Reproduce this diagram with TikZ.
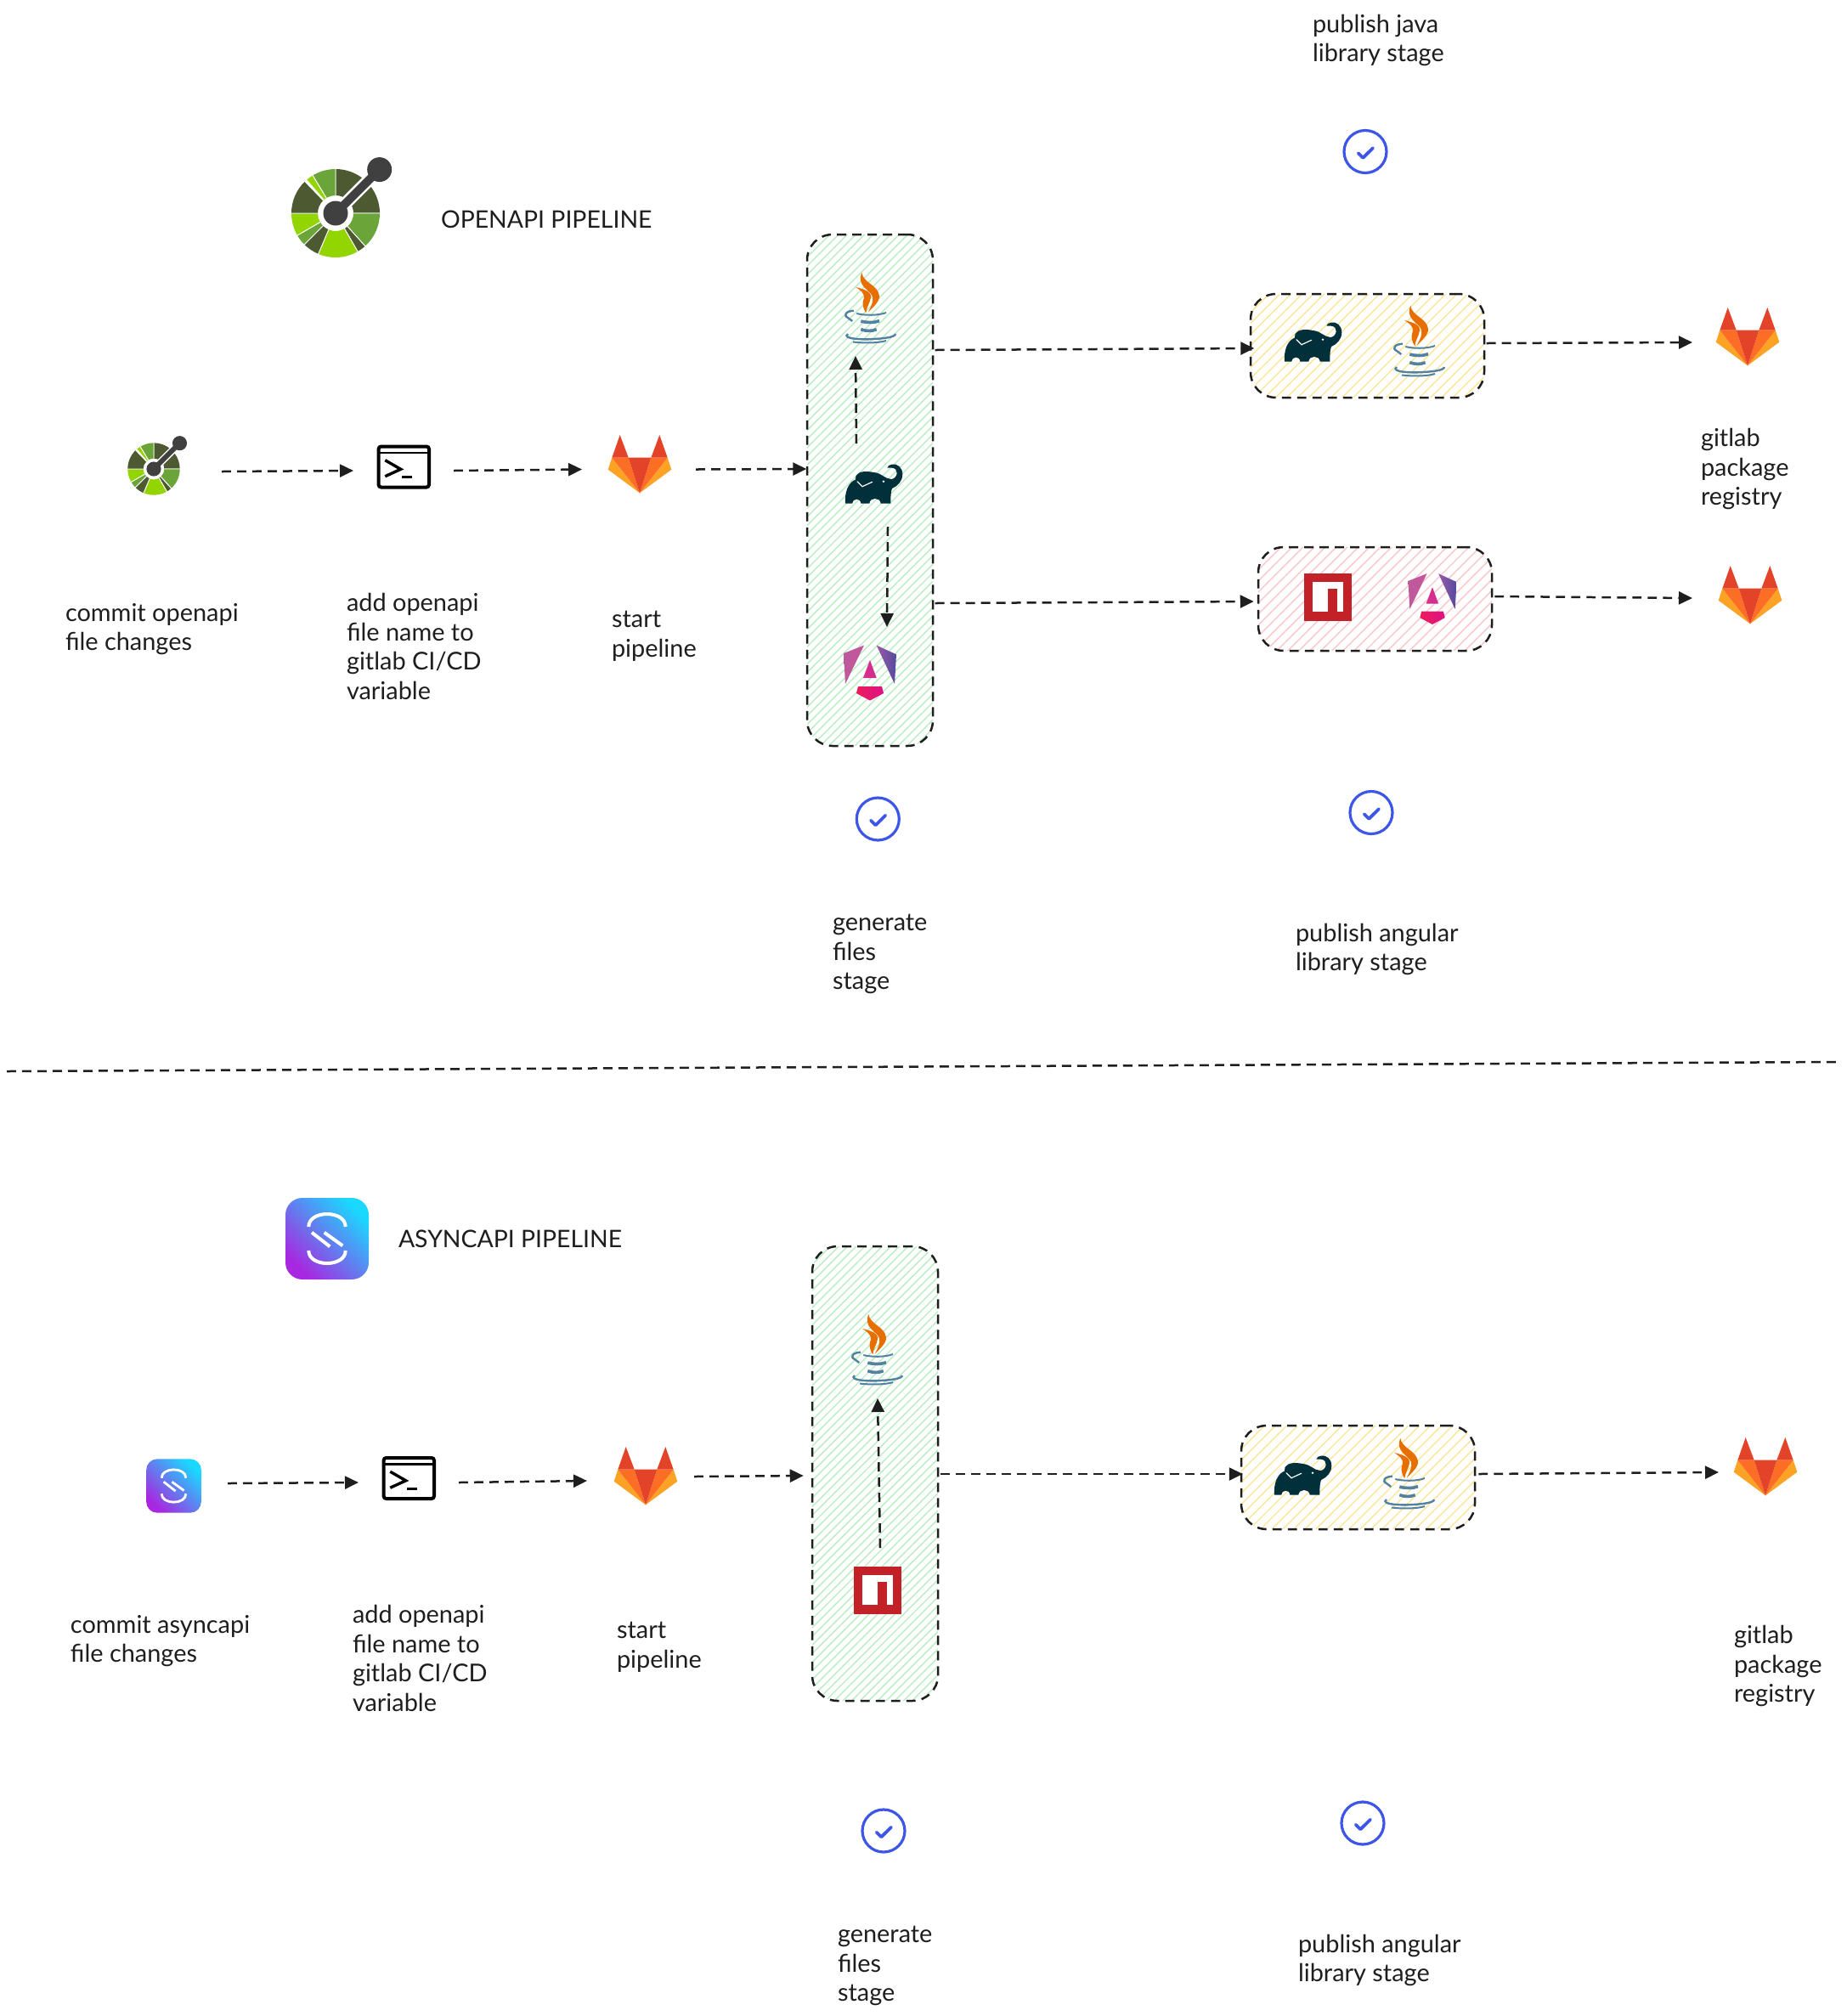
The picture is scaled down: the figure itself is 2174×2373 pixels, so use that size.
\documentclass[tikz,border=0pt]{standalone}
\usepackage{fontspec}
\setmainfont{Lato}
\usetikzlibrary{arrows.meta,calc,patterns.meta,shapes.geometric}
\definecolor{ink}{HTML}{1E1E1E}
\definecolor{hatchgreen}{HTML}{B9EEC1}
\definecolor{hatchyellow}{HTML}{FBE69A}
\definecolor{hatchpink}{HTML}{FBC6CB}
\definecolor{glred}{HTML}{E24329}
\definecolor{glorange}{HTML}{FC6D26}
\definecolor{glyellow}{HTML}{FCA326}
\definecolor{oadark}{HTML}{4D5A31}
\definecolor{oamid}{HTML}{6BA539}
\definecolor{oabright}{HTML}{93D500}
\definecolor{oahub}{HTML}{404041}
\definecolor{javaor}{HTML}{E76F00}
\definecolor{javabl}{HTML}{5382A1}
\definecolor{gradle}{HTML}{02303A}
\definecolor{npmred}{HTML}{C12127}
\definecolor{okblue}{HTML}{3D56E8}
\definecolor{ngA}{HTML}{BD5A9C}
\definecolor{ngB}{HTML}{C4569A}
\definecolor{ngC}{HTML}{9A5AA6}
\definecolor{ngD}{HTML}{55499F}
\definecolor{ngE}{HTML}{DB2F8C}
\definecolor{ngF}{HTML}{CF2C90}
\definecolor{ngG}{HTML}{EC1C5A}
\definecolor{ngH}{HTML}{DD1286}
\definecolor{asA}{HTML}{A827E0}
\definecolor{asB}{HTML}{6F78EE}
\definecolor{asC}{HTML}{1AD8FF}
\newcommand{\asyncR}{10pt}
\newcommand{\asyncW}{2pt}
\tikzset{
  lbl/.style={anchor=west,align=left,inner sep=0pt,outer sep=0pt,text=ink,font=\fontsize{14.45}{17.4}\selectfont},
  ttl/.style={anchor=west,inner sep=0pt,outer sep=0pt,text=ink,font=\fontsize{14.2}{17.4}\selectfont},
  flow/.style={draw=ink,line width=1.25pt,dash pattern=on 5.4pt off 3.6pt,-{Triangle[length=8pt,width=7.5pt]}},
  rule/.style={draw=ink,line width=1.25pt,dash pattern=on 5.4pt off 3.6pt},
  stagebox/.style={draw=ink,line width=1.25pt,dash pattern=on 5.4pt off 3.6pt,rounded corners=15pt,inner sep=0pt,
    minimum width=#1},
  spot/.style={inner sep=0pt,outer sep=0pt},
  gitlab/.pic={
    \fill[glyellow] (-32.7,-7.3) -- (-37.3,6.7) -- (0,34.3) -- cycle;
    \fill[glyellow] (32.7,-7.3) -- (37.3,6.7) -- (0,34.3) -- cycle;
    \fill[glorange] (-32.7,-7.3) -- (-13.3,-7.3) -- (0,34.3) -- cycle;
    \fill[glorange] (32.7,-7.3) -- (13.3,-7.3) -- (0,34.3) -- cycle;
    \fill[glred] (-13.3,-7.3) -- (13.3,-7.3) -- (0,34.3) -- cycle;
    \fill[glred] (-23.3,-34) -- (-13.3,-7.3) -- (-32.7,-7.3) -- cycle;
    \fill[glred] (23.3,-34) -- (13.3,-7.3) -- (32.7,-7.3) -- cycle;
  },
  terminal/.pic={
    \draw[black,line width=2pt,rounded corners=1.5pt] (-29.7,-24) rectangle (29.7,24);
    \draw[black,line width=1.1pt] (-29.7,-16.5) -- (29.7,-16.5);
    \draw[black,line width=1.7pt] (-22,-7.8) -- (-3.6,2.8) -- (-22,11.2);
    \draw[black,line width=1.7pt] (-2,12.2) -- (9.7,12.2);
  },
  openapi/.pic={
    \begin{scope}[yscale=-1]
      \foreach \a/\b/\c in {90/50/oadark,38/0/oadark,0/-48/oamid,-48/-60/oadark,-60/-113/oabright,
          -113/-135/oadark,-135/-150/oamid,-150/-180/oabright,180/134/oadark,131/121/oabright,121/90/oamid}{
        \fill[\c] (\a:21) arc[start angle=\a,end angle=\b,radius=21] -- (\b:52) arc[start angle=\b,end angle=\a,radius=52] -- cycle;
        \draw[white,line width=.45pt] (\a:21) -- (\a:52.5) (\b:21) -- (\b:52.5);
      }
      \fill[white] (-5.3,5.3) -- (46.4,57) -- (57,46.4) -- (5.3,-5.3) -- cycle;
      \fill[oahub] (0,0) circle[radius=14.5];
      \fill[oahub] (-3.5,3.5) -- (48,55) -- (55,48) -- (3.5,-3.5) -- cycle;
      \fill[oahub] (51.7,51.4) circle[radius=14.5];
    \end{scope}
  },
  java/.pic={
    \fill[javaor] (-9.7,-42) .. controls (-8,-30) and (9,-28) .. (11,-15) .. controls (12,-8) and (2,0) .. (-2.3,4.7)
       .. controls (1,-2) and (5,-8) .. (2.5,-15) .. controls (-1,-22) and (-16,-27) .. cycle;
    \fill[javaor] (-17,-25) .. controls (-8,-23) and (2,-20) .. (1,-13) .. controls (0,-6) and (-4,-2) .. (-4.7,5.3)
       .. controls (-8,0) and (-10,-5) .. (-7,-12) .. controls (-6,-18) and (-12,-22) .. cycle;
    \draw[javabl,line width=1pt] (-15.7,6) .. controls (-6,8.5) and (10,8.5) .. (19,5);
    \draw[javabl,line width=1.2pt] (-19,2.7) .. controls (-28,3) and (-32,8) .. (-26,11) .. controls (-24,12.5) and (-22,14) .. (-20.7,15);
    \draw[javabl,line width=1.8pt] (-10.7,15) .. controls (-4,17) and (5,17) .. (11,14.7);
    \draw[javabl,line width=1.8pt] (-10.7,24.7) .. controls (-4,27) and (2,27) .. (7.7,24.7);
    \draw[javabl,line width=1.2pt] (-26,30) .. controls (-34,36) and (-8,37) .. (5,36) .. controls (15,35.5) and (30,34) .. (30,30);
    \draw[javabl,line width=1pt] (-20,39.5) .. controls (-8,41) and (10,41) .. (19,38);
  },
  elephant/.pic={
    \fill[gradle] (-34,20.5) -- (-25.7,20.5) .. controls (-25,14) and (-16,14) .. (-15.7,20.5) -- (-5.7,20.5)
      .. controls (-5,13) and (7,13) .. (7.7,20.5) -- (19.3,20.5) .. controls (19.3,12) and (19.5,7) .. (21,3)
      .. controls (28,0) and (33.3,-6) .. (33.3,-13.7) .. controls (33.3,-22) and (27,-26.5) .. (21,-25.5)
      .. controls (18,-25) and (15.5,-23.5) .. (15.3,-21.3) -- (21,-21.3) .. controls (25,-21) and (27,-18) .. (26.7,-15)
      .. controls (26.5,-11) and (23,-8) .. (20,-8) .. controls (13,-8) and (8,-15.5) .. (-0.7,-16)
      .. controls (-8,-17.5) and (-18,-18) .. (-21.5,-12) -- (-22,-7.5) .. controls (-31,-4) and (-35,8) .. cycle;
    \draw[white,line width=.6pt,line cap=round] (-20,-5.3) -- (-14,0.7) -- (-2.3,-4.7);
    \fill[white] (11,-5.3) circle[radius=1.3];
  },
  angular/.pic={
    \shade[left color=ngA,right color=ngB] (-31,-23) -- (-7,-32.4) -- (-29,13) -- cycle;
    \shade[left color=ngC,right color=ngD] (7.7,-32.4) -- (31,-21.7) -- (29,13) -- cycle;
    \shade[left color=ngE,right color=ngF] (0,-15) -- (7.7,6) -- (-8,6) -- cycle;
    \shade[left color=ngG,right color=ngH] (-14,16) -- (14,16) -- (16,24) -- (0,32.6) -- (-16,24) -- cycle;
  },
  npm/.pic={
    \fill[npmred] (-28,-28) rectangle (28,28);
    \fill[white] (-17.6,-17.8) rectangle (17.6,17.2);
    \fill[npmred] (0.2,-10.5) rectangle (10.6,17.2);
  },
  asyncapi/.pic={
    \shade[rounded corners=\asyncR,bottom color=asA,middle color=asB,top color=asC,shading angle=-45]
       (-49,-48) rectangle (49,48);
    \draw[white,line width=\asyncW] (-21.7,-14) .. controls (-21.7,-34) and (21.7,-34) .. (21.7,-14);
    \draw[white,line width=\asyncW] (-21.7,14) .. controls (-21.7,34) and (21.7,34) .. (21.7,14);
    \draw[white,line width=\asyncW] (-18,-7.3) -- (3.3,9.3);
    \draw[white,line width=\asyncW] (-3.3,-7.3) -- (18.3,8.3);
  },
  okmark/.pic={
    \draw[okblue,line width=1.6pt] (0,0) circle[radius=25];
    \draw[okblue,line width=1.9pt,line cap=round,line join=round] (-8.3,1.7) -- (-2.7,7.3) -- (9,-4.3);
  },
}
\newcommand{\spotnode}[5]{\node[spot,minimum width={(#3-#2)*0.5pt},minimum height={(#5-#4)*0.5pt}] (#1) at ({(#2+#3)/2},{(#4+#5)/2}) {};}
\begin{document}
\begin{tikzpicture}[x=0.5pt,y=-0.5pt]
\useasboundingbox (0,0) rectangle (2174,2373);
\fill[white] (0,0) rectangle (2174,2373);

% stage boxes
\node[stagebox=74pt,minimum height=301pt,pattern={Lines[angle=45,distance=3.6pt,line width=.7pt]},pattern color=hatchgreen] (stageA) at (1024,577) {};
\node[stagebox=137.5pt,minimum height=61pt,pattern={Lines[angle=45,distance=4.6pt,line width=.7pt]},pattern color=hatchyellow] (stageB) at (1609.5,407) {};
\node[stagebox=137.5pt,minimum height=61pt,pattern={Lines[angle=45,distance=4.6pt,line width=.7pt]},pattern color=hatchpink] (stageC) at (1618.5,705) {};
\node[stagebox=74pt,minimum height=267.5pt,pattern={Lines[angle=45,distance=3.6pt,line width=.7pt]},pattern color=hatchgreen] (stageD) at (1030,1734.5) {};
\node[stagebox=137.5pt,minimum height=61pt,pattern={Lines[angle=45,distance=4.6pt,line width=.7pt]},pattern color=hatchyellow] (stageE) at (1598.5,1739) {};

% icons, top
\pic at (395,251) {openapi};
\pic[scale=.59] at (181,552) {openapi};
\pic at (475.3,549.5) {terminal};
\pic at (753,546) {gitlab};
\pic at (1024,363) {java};
\pic at (1029,572) {elephant};
\pic at (1024,792) {angular};
\pic at (1546,405) {elephant};
\pic at (1670,402) {java};
\pic at (1563,703) {npm};
\pic[scale=.92] at (1686,705) {angular};
\pic at (2057,396) {gitlab};
\pic at (2060,700) {gitlab};
\pic at (1607,178.5) {okmark};
\pic at (1033.3,964) {okmark};
\pic at (1614,956.5) {okmark};

% icons, bottom
\pic at (385,1458) {asyncapi};
\renewcommand{\asyncR}{6.5pt}
\renewcommand{\asyncW}{1.4pt}
\pic[scale=.66] at (204.5,1749) {asyncapi};
\pic at (481.3,1740) {terminal};
\pic at (760,1737) {gitlab};
\pic at (1032,1589) {java};
\pic at (1033,1872) {npm};
\pic at (1534,1739) {elephant};
\pic at (1658,1735) {java};
\pic at (2078,1726) {gitlab};
\pic at (1040,2155) {okmark};
\pic at (1604,2146) {okmark};

% connection spots around icons
\spotnode{oaS}{120}{261}{525}{585}
\spotnode{termA}{416}{534}{524}{584}
\spotnode{labA}{685}{819}{522}{583}
\spotnode{gradleA}{1008}{1045}{522}{620}
\spotnode{javaA}{973}{1007}{320}{419}
\spotnode{ngS}{1004}{1044}{738}{830}
\spotnode{labB}{1992}{2120}{373}{433}
\spotnode{labC}{1992}{2120}{674}{734}
\spotnode{asS}{140}{268}{1716}{1776}
\spotnode{termB}{422}{540}{1715}{1775}
\spotnode{labD}{691}{817}{1713}{1773}
\spotnode{npmB}{1006}{1066}{1822}{1920}
\spotnode{javaB}{1003}{1063}{1540}{1646}
\spotnode{labE}{2023}{2140}{1703}{1763}
\coordinate (ruleL) at (8,1261);
\coordinate (ruleR) at (2162,1250);

% connectors
\draw[flow] (oaS.east) -- (termA.west);
\draw[flow] (termA.east) -- (labA.west);
\draw[flow] (labA.east) -- ($(stageA.west)+(0,-25)$);
\draw[flow] (gradleA.north west) -- (javaA.south east);
\draw[flow] (gradleA.south east) -- (ngS.north east);
\draw[flow] ($(stageA.east)+(2,-165)$) -- ($(stageB.west)+(5,3)$);
\draw[flow] ($(stageA.east)+(2,133)$) -- ($(stageC.west)+(-4,3)$);
\draw[flow] ($(stageB.east)+(2,-3)$) -- (labB.west);
\draw[flow] ($(stageC.east)+(2,-3)$) -- (labC.west);
\draw[flow] (asS.east) -- (termB.west);
\draw[flow] (termB.east) -- (labD.west);
\draw[flow] ($(labD.east)+(0,-5)$) -- ($(stageD.west)+(-9,2.5)$);
\draw[flow] (npmB.north) -- (javaB.south);
\draw[flow] ($(stageD.east)+(2,0.5)$) -- ($(stageE.west)+(3,-4)$);
\draw[flow] ($(stageE.east)+(3,-4)$) -- (labE.west);
\draw[rule] (ruleL) -- (ruleR);

% labels
\node[lbl] (tJavaT) at (1545,47.5) {publish java\\library stage};
\node[ttl] (tOpen) at (519,258.5) {OPENAPI PIPELINE};
\node[lbl] (t1) at (77,740.5) {commit openapi\\file changes};
\node[lbl] (t2) at (408,761) {add openapi\\file name to\\gitlab CI/CD\\variable};
\node[lbl] (t3) at (720,748.5) {start\\pipeline};
\node[lbl] (t4) at (980,1123) {generate\\files\\stage};
\node[lbl] (t5) at (1525,1117.5) {publish angular\\library stage};
\node[lbl] (t6) at (2002,552) {gitlab\\package\\registry};
\node[ttl] (tAsync) at (469,1458.5) {ASYNCAPI PIPELINE};
\node[lbl] (t7) at (83,1931.5) {commit asyncapi\\file changes};
\node[lbl] (t8) at (415,1952) {add openapi\\file name to\\gitlab CI/CD\\variable};
\node[lbl] (t9) at (726,1938.5) {start\\pipeline};
\node[lbl] (t10) at (986,2314) {generate\\files\\stage};
\node[lbl] (t11) at (1528,2307.5) {publish angular\\library stage};
\node[lbl] (t12) at (2041,1961) {gitlab\\package\\registry};
\end{tikzpicture}
\end{document}
